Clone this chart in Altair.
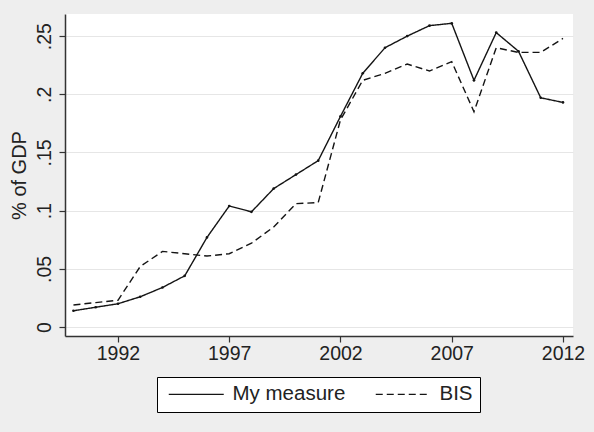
import altair as alt
import pandas as pd

years = list(range(1990, 2013))
my_measure = [0.014, 0.017, 0.020, 0.026, 0.034, 0.044, 0.077, 0.104, 0.099, 0.119,
              0.131, 0.143, 0.181, 0.218, 0.240, 0.250, 0.259, 0.261, 0.212, 0.253,
              0.237, 0.197, 0.193]
bis = [0.019, 0.021, 0.023, 0.052, 0.065, 0.063, 0.061, 0.063, 0.072, 0.086,
       0.106, 0.107, 0.178, 0.212, 0.218, 0.226, 0.220, 0.228, 0.185, 0.240,
       0.236, 0.236, 0.248]
series_names = ["My measure", "BIS"]
x_ticks = [1992, 1997, 2002, 2007, 2012]
y_ticks = [0, 0.05, 0.1, 0.15, 0.2, 0.25]

df = pd.DataFrame({
    "year": years + years,
    "value": my_measure + bis,
    "series": [series_names[0]] * len(years) + [series_names[1]] * len(years),
})

FONT = "Liberation Sans"
INK = "#141414"

x = alt.X("year:Q",
          scale=alt.Scale(domain=[1989.62, 2012.45], nice=False, zero=False),
          axis=alt.Axis(values=x_ticks, format="d", title=None, grid=False,
                        tickSize=6, labelPadding=2))
y = alt.Y("value:Q",
          scale=alt.Scale(domain=[-0.0077, 0.269], nice=False, zero=False),
          axis=alt.Axis(values=y_ticks, labelAngle=-90, grid=True, tickSize=6,
                        labelPadding=5, title="% of GDP", titlePadding=5,
                        labelExpr="datum.value == 0 ? '0' : replace(format(datum.value, '.2~f'), '0.', '.')"))

lines = alt.Chart(df).mark_line(color=INK, strokeWidth=1.4).encode(
    x=x, y=y,
    strokeDash=alt.StrokeDash(
        "series:N",
        scale=alt.Scale(domain=series_names, range=[[1, 0], [7, 4]]),
        legend=alt.Legend(
            title=None, orient="none", legendX=92, legendY=363,
            direction="horizontal", strokeColor="#000", fillColor="#ffffff",
            padding=7, symbolType="M-1,0H9", symbolSize=121,
            symbolStrokeColor=INK, symbolStrokeWidth=1.4,
            symbolFillColor="transparent",
            labelFontSize=20.5, labelFont=FONT, labelColor="#222222",
            labelOffset=48, columnPadding=25,
        ),
    ),
)

points = alt.Chart(df).transform_filter(
    alt.datum.series == series_names[0]
).mark_point(filled=True, size=7, color=INK, opacity=1).encode(x=x, y=y)

chart = (lines + points).properties(
    width=508, height=322,
    autosize=alt.AutoSizeParams(type="none"),
    padding={"left": 65, "top": 14, "right": 21, "bottom": 96},
    background="#eeeeee",
).configure_view(
    fill="#ffffff", stroke=None,
).configure_axis(
    labelFont=FONT, titleFont=FONT, labelFontSize=19.5, titleFontSize=20,
    titleFontWeight="normal", labelColor="#222222", titleColor="#222222",
    domainColor="#333333", domainWidth=1.5, tickColor="#333333", tickWidth=1.2,
    gridColor="#e6e6e6", gridWidth=1,
)

chart.save("out.html", embed_options={"renderer": "svg", "actions": False})
